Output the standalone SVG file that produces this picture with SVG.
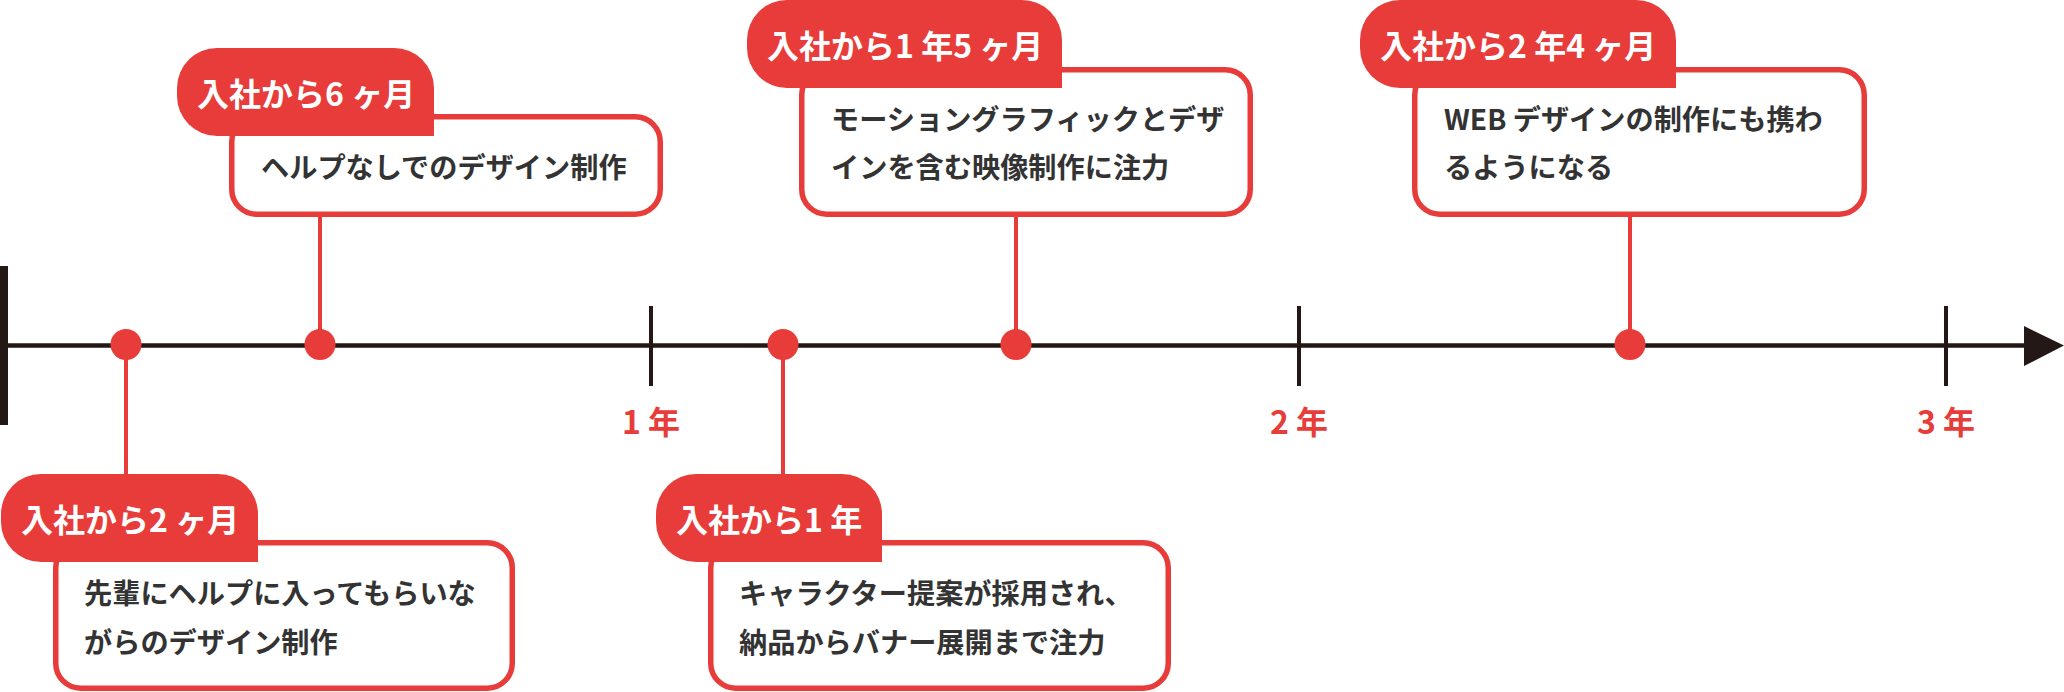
<svg xmlns="http://www.w3.org/2000/svg" width="2064" height="692" viewBox="0 0 2064 692">
  <style>
    .box { fill: #ffffff; stroke: #e83c3a; stroke-width: 5.5; }
    .pill { fill: #e83c3a; }
    .lbl { fill: #ffffff; font-family: "Noto Sans CJK JP", "Noto Sans", sans-serif; font-weight: 700; font-size: 32px; }
    .txt { fill: #333333; font-family: "Noto Sans CJK JP", "Noto Sans", sans-serif; font-weight: 700; font-size: 28.2px; }
    .year { fill: #e83c3a; font-family: "Noto Sans CJK JP", "Noto Sans", sans-serif; font-weight: 700; font-size: 32px; text-anchor: middle; }
    .conn { stroke: #e83c3a; stroke-width: 4; fill: none; }
    .dot { fill: #e83c3a; }
    .axis { stroke: #231815; stroke-width: 4.5; fill: none; }
    .tick { stroke: #231815; stroke-width: 4; fill: none; }
  </style>

  <g id="timeline-axis">
    <rect x="0" y="266" width="8" height="159" fill="#231815"/>
    <line class="axis" x1="0" y1="345.5" x2="2028" y2="345.5"/>
    <polygon points="2024,326 2064,345.5 2024,366" fill="#231815"/>
    <line class="tick" x1="651" y1="306" x2="651" y2="386"/>
    <line class="tick" x1="1299" y1="306" x2="1299" y2="386"/>
    <line class="tick" x1="1946" y1="306" x2="1946" y2="386"/>
    <text class="year" x="651" y="434">1 年</text>
    <text class="year" x="1299" y="434">2 年</text>
    <text class="year" x="1946" y="434">3 年</text>
  </g>

  <g id="connectors">
    <line class="conn" x1="126" y1="345" x2="126" y2="476"/>
    <line class="conn" x1="320" y1="215" x2="320" y2="345"/>
    <line class="conn" x1="783" y1="345" x2="783" y2="476"/>
    <line class="conn" x1="1016" y1="215" x2="1016" y2="345"/>
    <line class="conn" x1="1630" y1="215" x2="1630" y2="345"/>
    <circle class="dot" cx="126" cy="344.5" r="15.5"/>
    <circle class="dot" cx="320" cy="344.5" r="15.5"/>
    <circle class="dot" cx="783" cy="344.5" r="15.5"/>
    <circle class="dot" cx="1016" cy="344.5" r="15.5"/>
    <circle class="dot" cx="1630" cy="344.5" r="15.5"/>
  </g>

  <g id="node-2months">
    <rect class="box" x="55.75" y="542.75" width="456.5" height="145.5" rx="25" ry="25"/>
    <path class="pill" d="M41,474 H218 A40,40 0 0 1 258,514 V562 H41 A40,40 0 0 1 1,522 V514 A40,40 0 0 1 41,474 Z"/>
    <text class="lbl" x="21" y="532">入社から2 ヶ月</text>
    <text class="txt" x="84" y="604">先輩にヘルプに入ってもらいな</text>
    <text class="txt" x="84" y="653">がらのデザイン制作</text>
  </g>

  <g id="node-6months">
    <rect class="box" x="231.75" y="116.75" width="428.5" height="97.5" rx="25" ry="25"/>
    <path class="pill" d="M217,48 H394 A40,40 0 0 1 434,88 V136 H217 A40,40 0 0 1 177,96 V88 A40,40 0 0 1 217,48 Z"/>
    <text class="lbl" x="197" y="106">入社から6 ヶ月</text>
    <text class="txt" x="261" y="178">ヘルプなしでのデザイン制作</text>
  </g>

  <g id="node-1year">
    <rect class="box" x="710.75" y="542.75" width="457.5" height="145.5" rx="25" ry="25"/>
    <path class="pill" d="M696,474 H842 A40,40 0 0 1 882,514 V562 H696 A40,40 0 0 1 656,522 V514 A40,40 0 0 1 696,474 Z"/>
    <text class="lbl" x="676" y="532">入社から1 年</text>
    <text class="txt" x="739" y="604">キャラクター提案が採用され、</text>
    <text class="txt" x="739" y="653">納品からバナー展開まで注力</text>
  </g>

  <g id="node-1year5months">
    <rect class="box" x="801.75" y="69.75" width="448.5" height="144.5" rx="25" ry="25"/>
    <path class="pill" d="M787,0 H1022 A40,40 0 0 1 1062,40 V88 H787 A40,40 0 0 1 747,48 V40 A40,40 0 0 1 787,0 Z"/>
    <text class="lbl" x="767" y="58">入社から1 年5 ヶ月</text>
    <text class="txt" x="831" y="130">モーショングラフィックとデザ</text>
    <text class="txt" x="831" y="178">インを含む映像制作に注力</text>
  </g>

  <g id="node-2years4months">
    <rect class="box" x="1414.75" y="69.75" width="449.5" height="144.5" rx="25" ry="25"/>
    <path class="pill" d="M1400,0 H1636 A40,40 0 0 1 1676,40 V88 H1400 A40,40 0 0 1 1360,48 V40 A40,40 0 0 1 1400,0 Z"/>
    <text class="lbl" x="1380" y="58">入社から2 年4 ヶ月</text>
    <text class="txt" x="1444" y="130">WEB デザインの制作にも携わ</text>
    <text class="txt" x="1444" y="178">るようになる</text>
  </g>
</svg>
